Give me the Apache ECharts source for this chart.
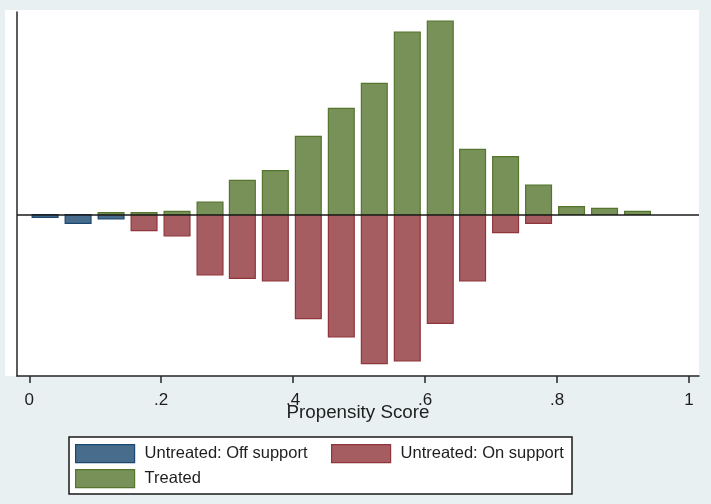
<!DOCTYPE html>
<html>
<head>
<meta charset="utf-8">
<script src="https://cdn.jsdelivr.net/npm/echarts@6/dist/echarts.min.js"></script>
<style>
  html, body { margin: 0; padding: 0; background: #e8f0f2; }
  #chart { width: 711px; height: 504px; }
</style>
</head>
<body>
<div id="chart"></div>
<script>
// Histogram bin midpoints on the propensity-score scale
const binMid = [0.024, 0.074, 0.124, 0.174, 0.224, 0.274, 0.323, 0.373, 0.423, 0.473,
                0.523, 0.573, 0.623, 0.672, 0.722, 0.772, 0.822, 0.872, 0.922];

// Bar heights per bin (treated drawn upward, untreated drawn downward)
const treated      = [0, 0, 1.8, 1.8, 3.2, 12.5, 34.2, 43.8, 78.2, 106.2,
                      131.2, 182.5, 193.5, 65.2, 57.8, 29.5, 7.8, 6.2, 3.2];
const untreatedOn  = [0, 0, 0, 16.2, 21.5, 60.5, 63.8, 66.5, 104.2, 122.5,
                      149.2, 146.5, 108.8, 66.5, 18.2, 8.8, 0, 0, 0];
const untreatedOff = [2.8, 8.8, 4.5, 0, 0, 0, 0, 0, 0, 0,
                      0, 0, 0, 0, 0, 0, 0, 0, 0];

// Axis ticks
const tickValues = [0, 0.2, 0.4, 0.6, 0.8, 1];
const tickLabels = ['0', '.2', '.4', '.6', '.8', '1'];

const seriesNames = ['Untreated: Off support', 'Untreated: On support', 'Treated'];
const FONT = '"Liberation Sans", Arial, sans-serif';
const TEXT = '#1e1e1e';

const colors = {
  off:     { fill: '#486c8c', edge: '#1a476f' },
  on:      { fill: '#a65d62', edge: '#90353b' },
  treated: { fill: '#779159', edge: '#55752f' }
};

const BAR_HALF = 0.0196;   // half bar width in score units

function barSeries(name, values, sign, col, extra) {
  const s = {
    name: name,
    type: 'custom',
    data: binMid.map((x, i) => [x, sign * values[i]]).filter(d => d[1] !== 0),
    encode: { x: 0, y: 1 },
    itemStyle: { color: col.fill, borderColor: col.edge, borderWidth: 1.2 },
    renderItem: function (params, api) {
      const x = api.value(0), v = api.value(1);
      const a = api.coord([x - BAR_HALF, 0]);
      const b = api.coord([x + BAR_HALF, v]);
      return {
        type: 'rect',
        shape: { x: a[0], y: Math.min(a[1], b[1]), width: b[0] - a[0], height: Math.abs(b[1] - a[1]) },
        style: { fill: col.fill, stroke: col.edge, lineWidth: 1.2 }
      };
    }
  };
  return Object.assign(s, extra || {});
}

function legendAt(left, top, name, col) {
  return {
    left: left, top: top, padding: 0,
    selectedMode: false,
    itemWidth: 59, itemHeight: 18,
    textStyle: { fontFamily: FONT, fontSize: 16.5, color: TEXT, padding: [0, 0, 0, 5] },
    data: [{ name: name, icon: 'rect', itemStyle: { color: col.fill, borderColor: col.edge, borderWidth: 1.2 } }]
  };
}

const chart = echarts.init(document.getElementById('chart'), null, { renderer: 'canvas' });

chart.setOption({
  backgroundColor: '#e8f0f2',
  animation: false,
  graphic: {
    elements: [
      // white plot region
      { type: 'rect', z: -10, silent: true,
        shape: { x: 5, y: 10, width: 694, height: 366 },
        style: { fill: '#ffffff' } },
      // legend frame
      { type: 'rect', z: -5, silent: true,
        shape: { x: 69, y: 437, width: 503, height: 57 },
        style: { fill: '#ffffff', stroke: '#1a1a1a', lineWidth: 1.5 } }
    ]
  },
  grid: { left: 17, right: 12, top: 12, bottom: 128 },
  xAxis: {
    type: 'value',
    min: -0.0186, max: 1.0152,
    name: 'Propensity Score',
    nameLocation: 'middle',
    nameGap: 27,
    nameMoveOverlap: false,
    nameTextStyle: { fontFamily: FONT, fontSize: 18.8, color: TEXT },
    splitLine: { show: false },
    axisLine: { show: true, onZero: false, lineStyle: { color: '#262626', width: 1.5 } },
    axisTick: { show: true, length: 7, lineStyle: { color: '#262626', width: 1.5 }, customValues: tickValues },
    axisLabel: {
      fontFamily: FONT, fontSize: 17, color: TEXT, margin: 16,
      customValues: tickValues,
      formatter: function (v) {
        const i = tickValues.findIndex(t => Math.abs(t - v) < 1e-9);
        return i >= 0 ? tickLabels[i] : '';
      }
    }
  },
  yAxis: {
    type: 'value',
    min: -161.5, max: 202.5,
    splitLine: { show: false },
    axisLine: { show: true, onZero: false, lineStyle: { color: '#262626', width: 1.5 } },
    axisTick: { show: false },
    axisLabel: { show: false }
  },
  legend: [
    legendAt(75, 444, seriesNames[0], colors.off),
    legendAt(331, 444, seriesNames[1], colors.on),
    legendAt(75, 469, seriesNames[2], colors.treated)
  ],
  series: [
    barSeries(seriesNames[0], untreatedOff, -1, colors.off),
    barSeries(seriesNames[1], untreatedOn, -1, colors.on),
    barSeries(seriesNames[2], treated, 1, colors.treated, {
      markLine: {
        silent: true,
        symbol: ['none', 'none'],
        label: { show: false },
        lineStyle: { color: '#1a1a1a', width: 1.5, type: 'solid' },
        data: [{ yAxis: 0 }]
      }
    })
  ]
});
</script>
</body>
</html>
